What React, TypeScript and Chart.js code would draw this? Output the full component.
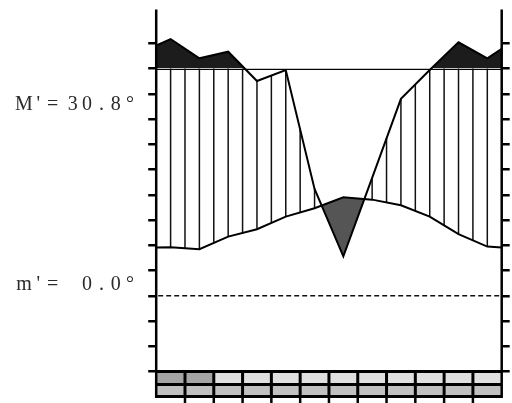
import { useEffect, useRef } from "react";
import { Chart, registerables } from "chart.js";

Chart.register(...registerables);

// Monthly climate series, in diagram units (temperature scale; precipitation drawn on the same axis)
const months = ["J", "F", "M", "A", "M", "J", "J", "A", "S", "O", "N", "D"];
const temperature = [9.62, 9.22, 11.72, 13.18, 15.68, 17.34, 19.5, 19.04, 17.93, 15.68, 12.19, 9.74];
const temperatureEdges = [9.58, 9.58];
const precipitation = [50.85, 47.03, 48.34, 42.54, 44.71, 21.16, 7.8, 23.34, 39.01, 44.71, 50.2, 47.03];
const precipitationEdges = [49.56, 48.91];

// Reference levels
const perhumidLevel = 45;
const zeroLevel = 0;
const axisTicks = [-15, -10, -5, 0, 5, 10, 15, 20, 25, 30, 35, 40, 45, 50];
const axisMin = -15;
const axisMax = 56.7;

// Extremes shown at the left
const absMax = 30.8;
const absMin = 0.0;

// Frost boxes under the months: shade level per month (top row, bottom row)
const frostTopRow = [2, 2, 1, 1, 1, 1, 1, 1, 1, 1, 1, 1];
const frostBottomRow = [1, 1, 1, 1, 1, 1, 1, 1, 1, 1, 1, 1];

const topShades: Record<number, string> = { 1: "#e0e0e0", 2: "#a4a4a4" };
const bottomShades: Record<number, string> = { 1: "#c0c0c0", 2: "#909090" };

function series(values: number[], edges: number[]) {
  return [
    { x: 0.5, y: edges[0] },
    ...values.map((v, i) => ({ x: i + 1, y: v })),
    { x: months.length + 0.5, y: edges[1] },
  ];
}

function yAt(points: any[], px: number): number {
  for (let i = 0; i < points.length - 1; i++) {
    const a = points[i];
    const b = points[i + 1];
    if (px >= a.x && px <= b.x) {
      const t = b.x === a.x ? 0 : (px - a.x) / (b.x - a.x);
      return a.y + (b.y - a.y) * t;
    }
  }
  return points[points.length - 1].y;
}

// Draws text on a fixed character pitch, typewriter style
function drawMono(ctx: CanvasRenderingContext2D, text: string, firstCenter: number, pitch: number, baseline: number) {
  ctx.textAlign = "center";
  for (let i = 0; i < text.length; i++) {
    const ch = text[i];
    if (ch !== " ") ctx.fillText(ch, firstCenter + i * pitch, baseline);
  }
}

const decorPlugin = {
  id: "climateDecor",
  beforeDatasetsDraw(chart: any) {
    const { ctx, chartArea, scales } = chart;
    const xs = scales.x;
    const ys = scales.y;
    const tPts = chart.getDatasetMeta(0).data;
    const pPts = chart.getDatasetMeta(1).data;
    const yRule = ys.getPixelForValue(perhumidLevel);

    ctx.save();
    // humid period hatching, every half month
    ctx.strokeStyle = "#111";
    ctx.lineWidth = 1.5;
    for (let k = 1; k < months.length * 2; k++) {
      const px = xs.getPixelForValue(0.5 + k * 0.5);
      const yP = yAt(pPts, px);
      const yT = yAt(tPts, px);
      const top = Math.max(yP, yRule);
      if (yT - top > 0.5) {
        ctx.beginPath();
        ctx.moveTo(px, top);
        ctx.lineTo(px, yT);
        ctx.stroke();
      }
    }

    // perhumid level rule
    ctx.strokeStyle = "#000";
    ctx.lineWidth = 1;
    ctx.beginPath();
    ctx.moveTo(chartArea.left, Math.round(yRule) + 0.5);
    ctx.lineTo(chartArea.right, Math.round(yRule) + 0.5);
    ctx.stroke();

    // zero line
    const y0 = ys.getPixelForValue(zeroLevel);
    ctx.setLineDash([5, 3]);
    ctx.lineWidth = 1.5;
    ctx.strokeStyle = "#111";
    ctx.beginPath();
    ctx.moveTo(chartArea.left + 2, y0);
    ctx.lineTo(chartArea.right, y0);
    ctx.stroke();
    ctx.restore();
  },
  afterDraw(chart: any) {
    const { ctx, chartArea, scales } = chart;
    const xs = scales.x;
    const { left, right, top, bottom } = chartArea;
    const rowSep = bottom + 13;
    const rowEnd = bottom + 25;

    ctx.save();
    // frost boxes
    months.forEach((_, i) => {
      const x0 = xs.getPixelForValue(i + 0.5);
      const x1 = xs.getPixelForValue(i + 1.5);
      ctx.fillStyle = topShades[frostTopRow[i]];
      ctx.fillRect(x0, bottom, x1 - x0, rowSep - bottom);
      ctx.fillStyle = bottomShades[frostBottomRow[i]];
      ctx.fillRect(x0, rowSep, x1 - x0, rowEnd - rowSep);
    });

    ctx.strokeStyle = "#000";
    ctx.lineWidth = 3;
    [bottom, rowSep, rowEnd].forEach((y) => {
      ctx.beginPath();
      ctx.moveTo(left, y);
      ctx.lineTo(right, y);
      ctx.stroke();
    });
    for (let i = 1; i < months.length; i++) {
      const x = xs.getPixelForValue(i + 0.5);
      ctx.lineWidth = 3;
      ctx.beginPath();
      ctx.moveTo(x, bottom);
      ctx.lineTo(x, rowEnd);
      ctx.stroke();
      ctx.lineWidth = 2.5;
      ctx.beginPath();
      ctx.moveTo(x, rowEnd);
      ctx.lineTo(x, chart.height);
      ctx.stroke();
    }

    // side axes
    ctx.lineWidth = 2.5;
    [left, right].forEach((x) => {
      ctx.beginPath();
      ctx.moveTo(x, top);
      ctx.lineTo(x, rowEnd + 1.5);
      ctx.stroke();
    });

    // extremes
    ctx.fillStyle = "#2a2a2a";
    ctx.font = '20px "Liberation Serif", "DejaVu Serif", serif';
    ctx.textBaseline = "alphabetic";
    const pitch = 14.3;
    const labels = [
      { prefix: "M'=", value: absMax, baseline: 110 },
      { prefix: "m'=", value: absMin, baseline: 290 },
    ];
    labels.forEach((l) => {
      drawMono(ctx, l.prefix, 24, pitch, l.baseline);
      const v = l.value.toFixed(1) + "\u00b0";
      drawMono(ctx, v, 130 - (v.length - 1) * pitch, pitch, l.baseline);
    });
    ctx.restore();
  },
};

export default function App() {
  const ref = useRef<HTMLCanvasElement>(null);

  useEffect(() => {
    const tempData = series(temperature, temperatureEdges);
    const precData = series(precipitation, precipitationEdges);

    const axisBase = {
      type: "linear" as const,
      min: axisMin,
      max: axisMax,
      afterBuildTicks: (scale: any) => {
        scale.ticks = axisTicks.map((v) => ({ value: v }));
      },
      ticks: { display: false },
      grid: {
        drawOnChartArea: false,
        drawTicks: true,
        tickLength: 8,
        color: "#000",
        lineWidth: 2.5,
      },
      border: { display: false },
    };

    const chart = new Chart(ref.current!, {
      type: "line",
      data: {
        datasets: [
          {
            label: "Temperature",
            data: tempData,
            borderColor: "#000",
            borderWidth: 2,
            pointRadius: 0,
            tension: 0,
            fill: false,
            order: 0,
          },
          {
            label: "Precipitation",
            data: precData,
            borderColor: "#000",
            borderWidth: 2,
            pointRadius: 0,
            tension: 0,
            fill: false,
            order: 1,
          },
          {
            label: "Perhumid",
            data: precData,
            borderColor: "rgba(0,0,0,0)",
            borderWidth: 0,
            pointRadius: 0,
            tension: 0,
            fill: { target: { value: perhumidLevel }, above: "#1c1c1c", below: "rgba(0,0,0,0)" },
            order: 3,
          },
          {
            label: "Dry",
            data: precData,
            borderColor: "rgba(0,0,0,0)",
            borderWidth: 0,
            pointRadius: 0,
            tension: 0,
            fill: { target: 0, above: "rgba(0,0,0,0)", below: "#555555" },
            order: 2,
          },
        ],
      },
      options: {
        animation: false,
        responsive: false,
        devicePixelRatio: 1,
        layout: { padding: { top: 9.5, bottom: 31.5, left: 0, right: 0 } },
        scales: {
          x: { type: "linear", min: 0.5, max: months.length + 0.5, display: false },
          y: {
            ...axisBase,
            position: "left",
            afterFit: (scale: any) => {
              scale.width = 156.2;
            },
          },
          y2: {
            ...axisBase,
            position: "right",
            afterFit: (scale: any) => {
              scale.width = 10.3;
            },
          },
        },
        plugins: {
          legend: { display: false },
          tooltip: { enabled: false },
        },
      },
      plugins: [decorPlugin],
    } as any);

    return () => chart.destroy();
  }, []);

  return (
    <div style={{ position: "fixed", left: 0, top: 0, width: 512, height: 403, background: "#fff" }}>
      <canvas ref={ref} width={512} height={403} style={{ display: "block", width: 512, height: 403 }} />
    </div>
  );
}
